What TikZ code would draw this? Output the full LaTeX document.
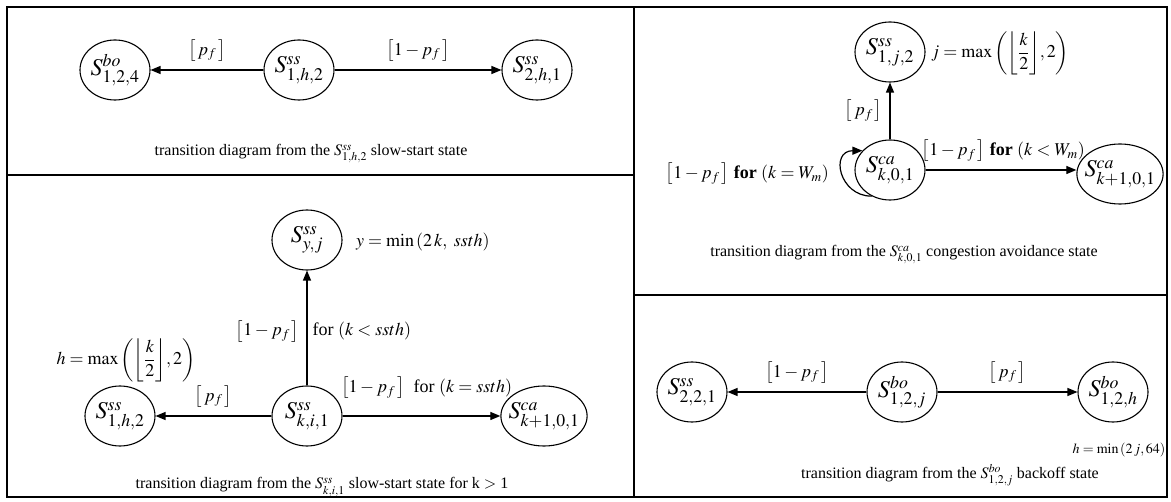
\documentclass[tikz,border=0pt]{standalone}
\usepackage{amsmath}
\usepackage{mathptmx}
\usepackage{fontspec}
\setmainfont{Liberation Serif}
\usetikzlibrary{shapes.geometric, arrows.meta, positioning}
\tikzstyle{state} = [ellipse, draw, line width=1.1pt, minimum width=70pt, minimum height=60pt, inner sep=-5pt, font=\fontsize{24}{28}\selectfont]
\tikzstyle{prob} = [inner sep=1pt, font=\fontsize{18}{21}\selectfont]
\tikzstyle{captext} = [inner sep=0pt, font=\fontsize{16}{19}\selectfont]
\tikzstyle{arrow} = [line width=1.2pt,-{Triangle[length=10pt,width=8pt]}]
\tikzstyle{frame} = [line width=1.4pt]

\begin{document}
\begin{tikzpicture}[x=1pt, y=-1pt]
        \useasboundingbox (0,0) rectangle (1171,502);
        \draw[frame] (7,7) rectangle (1167,497);
        \draw[frame] (634,7) -- (634,497);
        \draw[frame] (7,175) -- (634,175);
        \draw[frame] (634,295) -- (1167,295);

        \node[state] (bo124) at (115,70) {$S^{bo}_{1,2,4}$};
        \node[state] (ss1h2) at (299,70) {$S^{ss}_{1,h,2}$};
        \node[state] (ss2h1) at (537,70) {$S^{ss}_{2,h,1}$};
        \draw[arrow] (ss1h2) -- node[prob, above=7pt] {$\left[\,p_{f}\,\right]$} (bo124);
        \draw[arrow] (ss1h2) -- node[prob, above=7pt] {$\left[1-p_{f}\,\right]$} (ss2h1);
        \node[captext] (cap1) at (311,154) {transition diagram from the $S^{ss}_{1,h,2}$ slow-start state};

        \node[state] (ssyj) at (307,240) {$S^{ss}_{y,j}$};
        \node[state] (ski1) at (307,416) {$S^{ss}_{k,i,1}$};
        \node[state] (ss1h2b) at (120,416) {$S^{ss}_{1,h,2}$};
        \node[state] (cak1) at (544,416) {$S^{ca}_{k+1,0,1}$};
        \node[prob, anchor=west] (ymin) at (355,242) {$y=\min\left(2\,k,\ ssth\right)$};
        \node[prob] (hmax) at (126,360) {$h=\max\left(\left\lfloor\dfrac{k}{2}\right\rfloor\!,2\right)$};
        \draw[arrow] (ski1) -- (ssyj)
            node[prob, pos=0.47, left=6pt] {$\left[1-p_{f}\,\right]$}
            node[prob, pos=0.47, right=4pt] {for $\left(k<ssth\right)$};
        \draw[arrow] (ski1) -- node[prob, above=7pt] {$\left[\,p_{f}\,\right]$} (ss1h2b);
        \draw[arrow] (ski1) -- (cak1);
        \node[prob, anchor=west] (ssthlbl) at (340,388) {$\left[1-p_{f}\,\right]$\ \ for $\left(k=ssth\right)$};
        \node[captext] (cap2) at (322,487) {transition diagram from the $S^{ss}_{k,i,1}$ slow-start state for k $>$ 1};

        \node[state] (ss1j2) at (890,52) {$S^{ss}_{1,j,2}$};
        \node[state] (kca) at (890,170) {$S^{ca}_{k,0,1}$};
        \node[state, minimum width=66pt] (k1ca) at (1120,174) {$S^{ca}_{k+1,0,1}$};
        \node[prob, anchor=west] (jmax) at (930,53) {$j=\max\left(\left\lfloor\dfrac{k}{2}\right\rfloor\!,2\right)$};
        \draw[arrow] (kca) -- node[prob, left=6pt] {$\left[\,p_{f}\,\right]$} (ss1j2);
        \draw[arrow] (kca.east) -- (kca.east -| k1ca.west);
        \node[prob, anchor=east] (wmlt) at (1086,151) {$\left[1-p_{f}\,\right]$\ \textbf{for} {\boldmath$\left(k<W_m\right)$}};
        \draw[arrow] (kca.235) to[out=180, in=180, looseness=1.8] (kca.145);
        \node[prob, anchor=east] (wmeq) at (830,174) {$\left[1-p_{f}\,\right]$\ \textbf{for} {\boldmath$\left(k=W_m\right)$}};
        \node[captext] (cap3) at (904,255) {transition diagram from the $S^{ca}_{k,0,1}$ congestion avoidance state};

        \node[state] (ss221) at (692,392) {$S^{ss}_{2,2,1}$};
        \node[state] (bo12j) at (902,392) {$S^{bo}_{1,2,j}$};
        \node[state] (bo12h) at (1113,392) {$S^{bo}_{1,2,h}$};
        \draw[arrow] (bo12j) -- node[prob, above=7pt] {$\left[1-p_{f}\,\right]$} (ss221);
        \draw[arrow] (bo12j) -- node[prob, above=7pt] {$\left[\,p_{f}\,\right]$} (bo12h);
        \node[prob, font=\fontsize{14}{16}\selectfont] (hmin) at (1119,450) {$h=\min\left(2\,j,64\right)$};
        \node[captext] (cap4) at (950,475) {transition diagram from the $S^{bo}_{1,2,j}$ backoff state};
    \end{tikzpicture}
\end{document}
